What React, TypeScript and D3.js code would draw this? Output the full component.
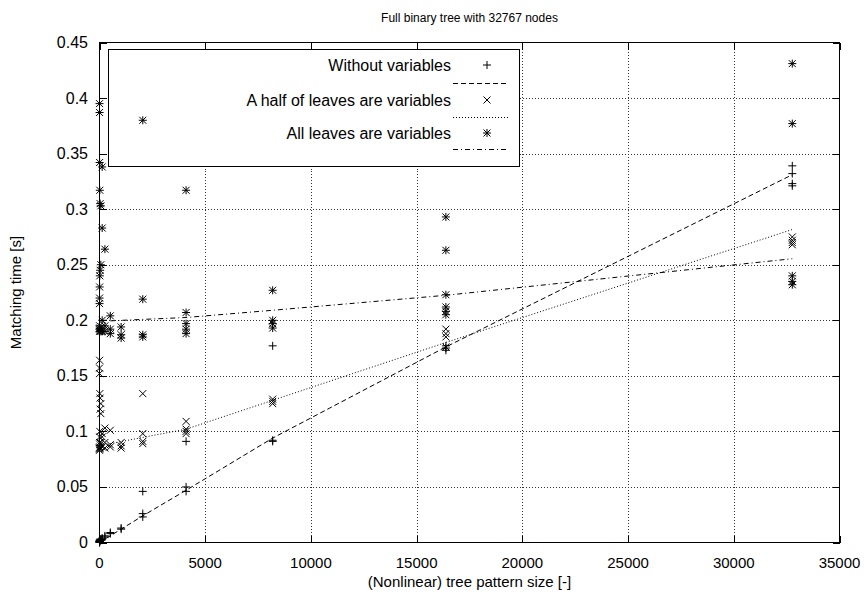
import React from 'react';
import * as d3 from 'd3';

// x positions: pattern sizes (2^k - 1)
const sizes = [1, 3, 7, 15, 31, 63, 127, 255, 511, 1023, 2047, 4095, 8191, 16383, 32767];

// Matching times per pattern size [s]
const withoutVars: number[][] = [
  [0.0, 0.001], [0.001, 0.0], [0.001, 0.002], [0.002, 0.001], [0.002, 0.003],
  [0.002, 0.003], [0.003, 0.004], [0.005, 0.006], [0.008, 0.009], [0.012, 0.013],
  [0.023, 0.026, 0.046], [0.046, 0.05, 0.091], [0.091, 0.092, 0.177],
  [0.173, 0.175, 0.177], [0.321, 0.323, 0.332, 0.339],
];
const halfVars: number[][] = [
  [0.083, 0.085, 0.152], [0.084, 0.09, 0.157], [0.085, 0.095, 0.164], [0.086, 0.1, 0.134],
  [0.088, 0.12, 0.13], [0.09, 0.116, 0.125], [0.086, 0.095, 0.098], [0.085, 0.09, 0.103],
  [0.086, 0.088, 0.101], [0.085, 0.087, 0.09], [0.089, 0.091, 0.098, 0.134],
  [0.098, 0.1, 0.102, 0.109], [0.125, 0.127, 0.129], [0.176, 0.185, 0.188, 0.192],
  [0.268, 0.27, 0.272, 0.275],
];
const allVars: number[][] = [
  [0.19, 0.215, 0.395], [0.192, 0.22, 0.387], [0.195, 0.23, 0.342], [0.193, 0.24, 0.317],
  [0.191, 0.245, 0.305], [0.19, 0.25, 0.303], [0.19, 0.2, 0.283, 0.338], [0.19, 0.195, 0.264],
  [0.188, 0.192, 0.204], [0.184, 0.187, 0.194], [0.185, 0.187, 0.219, 0.38],
  [0.188, 0.192, 0.197, 0.207, 0.317], [0.193, 0.197, 0.2, 0.227],
  [0.205, 0.208, 0.212, 0.223, 0.263, 0.293], [0.232, 0.235, 0.24, 0.377, 0.431],
];

// fitted trend lines
const fitWithoutX = [1, 1023, 2047, 4095, 8191, 16383, 32767];
const fitWithoutY = [0.0, 0.012, 0.024, 0.047, 0.094, 0.176, 0.331];
const fitHalfX = [511, 4095, 8191, 16383, 32767];
const fitHalfY = [0.089, 0.102, 0.128, 0.18, 0.2817];
const fitAllX = [511, 4095, 8191, 16383, 32767];
const fitAllY = [0.1995, 0.2025, 0.209, 0.2225, 0.2554];

const xTicks = [0, 5000, 10000, 15000, 20000, 25000, 30000, 35000];
const yTicks = [0, 0.05, 0.1, 0.15, 0.2, 0.25, 0.3, 0.35, 0.4, 0.45];
const legendLabels = ['Without variables', 'A half of leaves are variables', 'All leaves are variables'];

const FONT = '"Liberation Sans", Arial, Helvetica, sans-serif';

function plusPath(cx: number, cy: number, r: number) {
  return `M${cx - r},${cy}H${cx + r}M${cx},${cy - r}V${cy + r}`;
}
function crossPath(cx: number, cy: number, r: number) {
  return `M${cx - r},${cy - r}L${cx + r},${cy + r}M${cx - r},${cy + r}L${cx + r},${cy - r}`;
}
function markerPath(kind: number, cx: number, cy: number) {
  if (kind === 0) return plusPath(cx, cy, 4);
  if (kind === 1) return crossPath(cx, cy, 3.5);
  return plusPath(cx, cy, 4) + crossPath(cx, cy, 3.5);
}

export default function App() {
  const W = 868, H = 599;
  const left = 99.5, right = 839.5, top = 42.5, bottom = 542.5;
  const x = d3.scaleLinear().domain([0, 35000]).range([left, right]);
  const y = d3.scaleLinear().domain([0, 0.45]).range([bottom, top]);

  const series = [withoutVars, halfVars, allVars];
  const fits = [
    { xs: fitWithoutX, ys: fitWithoutY, dash: '5,3', color: '#000' },
    { xs: fitHalfX, ys: fitHalfY, dash: '1,2', color: '#000' },
    { xs: fitAllX, ys: fitAllY, dash: '5,3,1,3', color: '#000' },
  ];
  const line = d3.line<[number, number]>().x(d => x(d[0])).y(d => y(d[1]));

  const legendBox = { x0: 108.5, y0: 49.5, x1: 519.5, y1: 166.5 };
  const rowsText = [65, 100, 133];
  const rowsLine = [83, 117, 149];

  return (
    <svg width={W} height={H} style={{ position: 'fixed', left: 0, top: 0, background: '#fff' }}
      fontFamily={FONT}>
      <rect x={0} y={0} width={W} height={H} fill="#fff" />
      {/* grid */}
      <g stroke="#333" strokeWidth={1} strokeDasharray="1,2" shapeRendering="crispEdges">
        {xTicks.slice(1, -1).map(t => (
          <line key={'gx' + t} x1={Math.round(x(t)) + 0.5} x2={Math.round(x(t)) + 0.5} y1={top} y2={bottom} />
        ))}
        {yTicks.slice(1, -1).map(t => (
          <line key={'gy' + t} x1={left} x2={right} y1={Math.round(y(t)) + 0.5} y2={Math.round(y(t)) + 0.5} />
        ))}
      </g>
      {/* legend box */}
      <rect x={legendBox.x0} y={legendBox.y0} width={legendBox.x1 - legendBox.x0} height={legendBox.y1 - legendBox.y0}
        fill="#fff" stroke="#000" strokeWidth={1} />
      {legendLabels.map((lab, i) => (
        <g key={'lg' + i}>
          <text x={451} y={rowsText[i] + 5.5} textAnchor="end" fontSize={16} fill="#000">{lab}</text>
          <path d={markerPath(i, 487, rowsText[i])} stroke="#000" strokeWidth={1} fill="none" />
          <line x1={453} x2={509} y1={rowsLine[i] + 0.5} y2={rowsLine[i] + 0.5} stroke="#000" strokeWidth={1}
            strokeDasharray={fits[i].dash} />
        </g>
      ))}
      {/* data points */}
      {series.map((s, si) => (
        <g key={'s' + si} stroke="#000" strokeWidth={1} fill="none">
          {s.map((vals, k) => vals.map((v, j) => (
            <path key={k + '-' + j} d={markerPath(si, x(sizes[k]), y(v))} />
          )))}
        </g>
      ))}
      {/* fit lines */}
      {fits.map((f, i) => (
        <path key={'f' + i} d={line(f.xs.map((xv, k) => [xv, f.ys[k]] as [number, number])) || ''}
          fill="none" stroke={f.color} strokeWidth={1} strokeDasharray={f.dash} />
      ))}
      {/* border */}
      <rect x={left} y={top} width={right - left} height={bottom - top} fill="none" stroke="#000" strokeWidth={1}
        shapeRendering="crispEdges" />
      {/* ticks */}
      <g stroke="#000" strokeWidth={1} shapeRendering="crispEdges">
        {xTicks.map(t => {
          const px = Math.round(x(t)) + 0.5;
          return (
            <g key={'tx' + t}>
              <line x1={px} x2={px} y1={bottom} y2={bottom - 7} />
              <line x1={px} x2={px} y1={top} y2={top + 7} />
            </g>
          );
        })}
        {yTicks.map(t => {
          const py = Math.round(y(t)) + 0.5;
          return (
            <g key={'ty' + t}>
              <line x1={left} x2={left + 7} y1={py} y2={py} />
              <line x1={right} x2={right - 7} y1={py} y2={py} />
            </g>
          );
        })}
      </g>
      {/* tick labels */}
      <g fontSize={15} fill="#000">
        {xTicks.map(t => (
          <text key={'lx' + t} x={x(t)} y={568} textAnchor="middle">{String(t)}</text>
        ))}
      </g>
      <g fontSize={16} fill="#000">
        {yTicks.map(t => (
          <text key={'ly' + t} x={88} y={y(t) + 5.5} textAnchor="end">{String(t)}</text>
        ))}
      </g>
      {/* titles */}
      <text x={(left + right) / 2} y={22} textAnchor="middle" fontSize={12} fill="#000">
        Full binary tree with 32767 nodes
      </text>
      <text x={(left + right) / 2} y={587} textAnchor="middle" fontSize={15} fill="#000">
        (Nonlinear) tree pattern size  [-]
      </text>
      <text transform={`translate(21,${(top + bottom) / 2}) rotate(-90)`} textAnchor="middle" fontSize={15} fill="#000">
        Matching time [s]
      </text>
    </svg>
  );
}
